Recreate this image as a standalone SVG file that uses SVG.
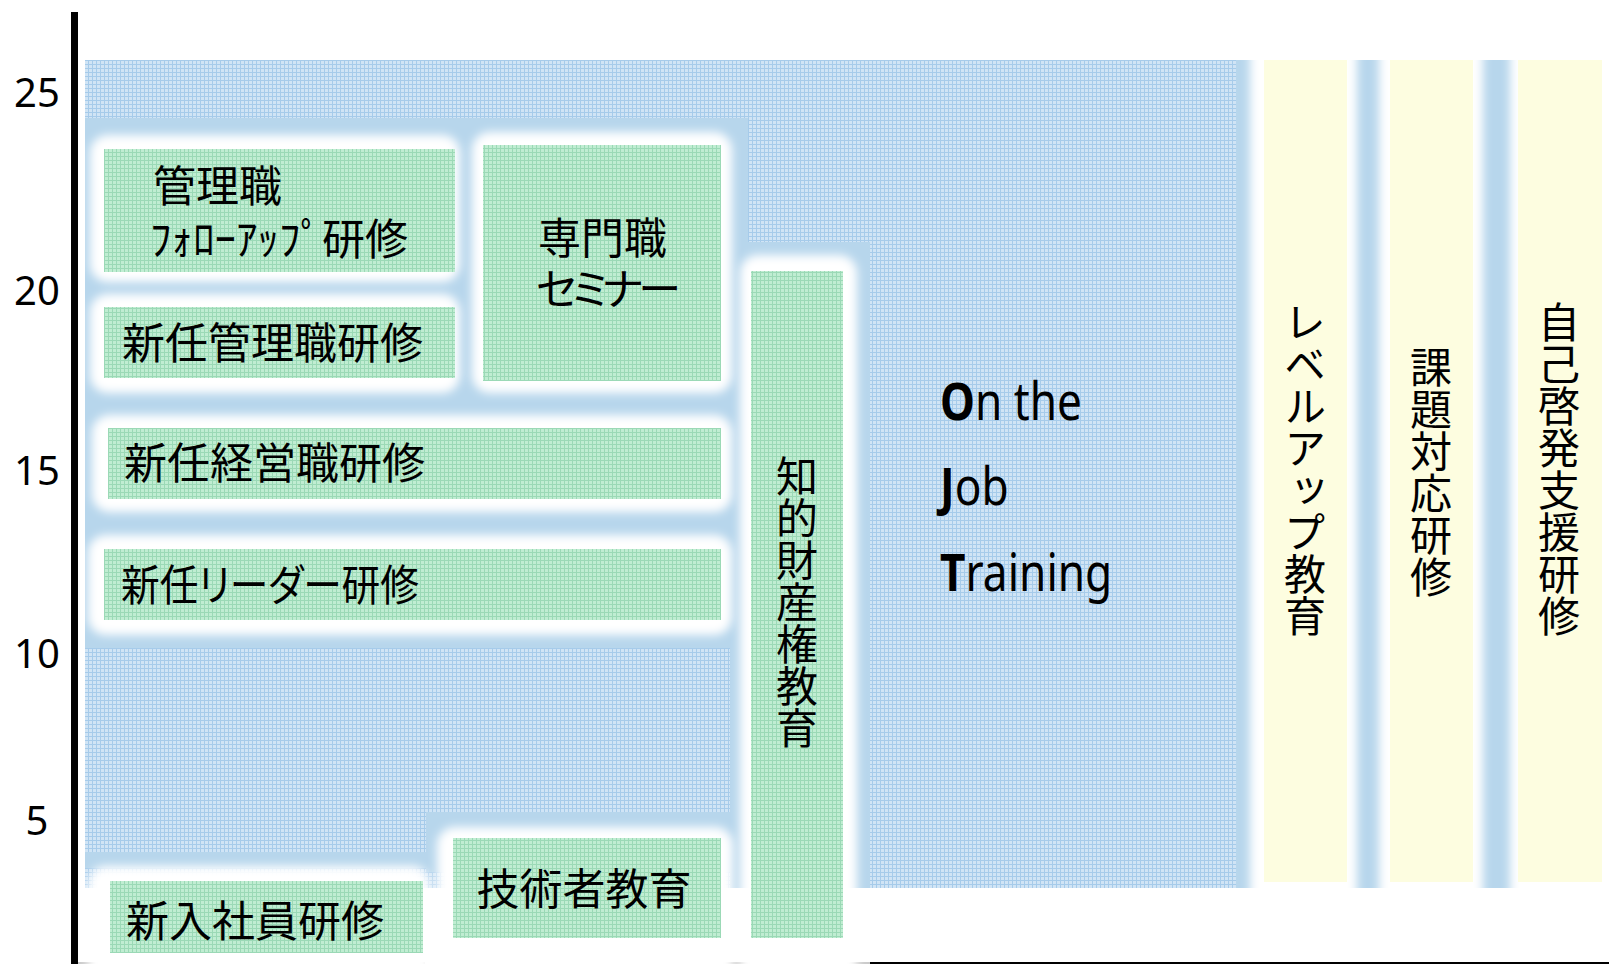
<svg xmlns="http://www.w3.org/2000/svg" width="1609" height="965" viewBox="0 0 1609 965">
<style>
.jp{font-family:"Noto Sans CJK JP","Noto Sans CJK SC",sans-serif;font-size:43px;fill:#000;font-feature-settings:"palt";dominant-baseline:central}
.vt{font-family:"Noto Sans CJK JP","Noto Sans CJK SC",sans-serif;font-size:42px;fill:#000;writing-mode:vertical-rl}
.ax{font-family:"Noto Sans","DejaVu Sans",sans-serif;font-size:40px;fill:#000;text-anchor:middle}
.ojt{font-family:"Noto Sans","Open Sans",sans-serif;font-size:52px;fill:#000}
.b{font-weight:700}
.grid{fill:url(#bluegrid)}
.sb{fill:#b7d6ec}
.wf{fill:#fff;filter:url(#soft)}
.gr{fill:url(#greengrid)}
.yl{fill:#fdfde0}
</style>
<defs>
<pattern id="bluegrid" width="4" height="4" patternUnits="userSpaceOnUse">
<rect width="4" height="4" fill="#d0e4f5"/>
<rect width="4" height="1" fill="#a6cbea"/>
<rect width="1" height="4" fill="#a6cbea"/>
</pattern>
<pattern id="greengrid" width="4" height="4" patternUnits="userSpaceOnUse">
<rect width="4" height="4" fill="#c0edd2"/>
<rect width="4" height="1" fill="#9bd9b6"/>
<rect width="1" height="4" fill="#9bd9b6"/>
</pattern>
<filter id="soft" x="-20%" y="-20%" width="140%" height="140%">
<feGaussianBlur stdDeviation="5"/>
</filter>
</defs>
<rect width="1609" height="965" fill="#fff"/>
<g id="background">
<rect class="grid" x="85" y="60" width="1151" height="828"/>
<rect class="sb" x="1236" y="60" width="373" height="828"/>
<rect class="sb" x="85" y="118" width="663" height="530"/>
<rect class="sb" x="730" y="242" width="140" height="646"/>
<rect class="sb" x="426" y="812" width="322" height="60"/>
<rect class="sb" x="85" y="852" width="345" height="16"/>
</g>
<g id="axis">
<rect x="71" y="12" width="7" height="952" fill="#000"/>
<line x1="870" y1="963" x2="1609" y2="963" stroke="#000" stroke-width="2"/>
<line x1="78" y1="963" x2="425" y2="963" stroke="#cacaca" stroke-width="2"/>
<line x1="723" y1="963" x2="870" y2="963" stroke="#cacaca" stroke-width="2"/>
<text class="ax" x="37" y="107">25</text>
<text class="ax" x="37" y="305">20</text>
<text class="ax" x="37" y="485">15</text>
<text class="ax" x="37" y="668">10</text>
<text class="ax" x="37" y="835">5</text>
</g>
<g id="frames">
<rect class="wf" x="90" y="135" width="370" height="147" rx="18"/>
<rect class="wf" x="90" y="294" width="370" height="99" rx="18"/>
<rect class="wf" x="472" y="132" width="260" height="261" rx="18"/>
<rect class="wf" x="92" y="415" width="640" height="97" rx="18"/>
<rect class="wf" x="88" y="535" width="644" height="100" rx="18"/>
<rect class="wf" x="740" y="255" width="117" height="730" rx="18"/>
<rect class="wf" x="437" y="827" width="296" height="160" rx="18"/>
<rect class="wf" x="88" y="866" width="342" height="120" rx="18"/>
<rect class="wf" x="1250" y="30" width="107" height="880" rx="10"/>
<rect class="wf" x="1379" y="30" width="104" height="880" rx="10"/>
<rect class="wf" x="1510" y="30" width="130" height="880" rx="10"/>
</g>
<g id="node-kanrishoku-followup">
<rect class="gr" x="104" y="149" width="351" height="123"/>
<text class="jp"><tspan x="153" y="183">管理職</tspan><tspan x="150" y="236">ﾌｫﾛｰｱｯﾌﾟ研修</tspan></text>
</g>
<g id="node-shinnin-kanrishoku">
<rect class="gr" x="104" y="307" width="351" height="71"/>
<text class="jp" x="122" y="340">新任管理職研修</text>
</g>
<g id="node-shinnin-keieishoku">
<rect class="gr" x="108" y="428" width="613" height="71"/>
<text class="jp" x="124" y="460">新任経営職研修</text>
</g>
<g id="node-shinnin-leader">
<rect class="gr" x="104" y="549" width="617" height="71"/>
<text class="jp" x="121" y="582" textLength="298" lengthAdjust="spacingAndGlyphs">新任リーダー研修</text>
</g>
<g id="node-senmonshoku">
<rect class="gr" x="483" y="145" width="238" height="236"/>
<text class="jp"><tspan x="538" y="235">専門職</tspan><tspan x="536" y="286" style="letter-spacing:-5px">セミナー</tspan></text>
</g>
<g id="node-chiteki">
<rect class="gr" x="751" y="271" width="92" height="667"/>
<text class="vt" x="797" y="455">知的財産権教育</text>
</g>
<g id="node-gijutsusha">
<rect class="gr" x="453" y="838" width="268" height="100"/>
<text class="jp" x="584" y="886" text-anchor="middle">技術者教育</text>
</g>
<g id="node-shinnyu">
<rect class="gr" x="110" y="881" width="313" height="72"/>
<text class="jp" x="126" y="918">新入社員研修</text>
</g>
<g id="node-ojt">
<g transform="translate(940,0) scale(0.85,1)">
<text class="ojt" x="0" y="420"><tspan class="b">O</tspan>n the</text>
<text class="ojt" x="0" y="505"><tspan class="b">J</tspan>ob</text>
<text class="ojt" x="0" y="591"><tspan class="b">T</tspan>raining</text>
</g>
</g>
<g id="node-levelup">
<rect class="yl" x="1264" y="60" width="83" height="822"/>
<text class="vt" x="1305" y="301">レベルアップ教育</text>
</g>
<g id="node-kadai">
<rect class="yl" x="1390" y="60" width="83" height="822"/>
<text class="vt" x="1431" y="346">課題対応研修</text>
</g>
<g id="node-jiko">
<rect class="yl" x="1518" y="60" width="84" height="822"/>
<text class="vt" x="1559" y="301">自己啓発支援研修</text>
</g>
<g id="connectors"/>
</svg>
